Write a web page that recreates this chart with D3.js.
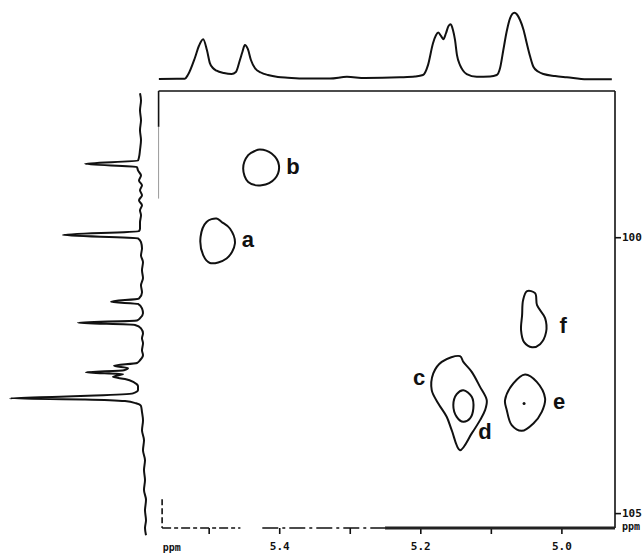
<!DOCTYPE html>
<html>
<head>
<meta charset="utf-8">
<script src="https://d3js.org/d3.v7.min.js"></script>
<style>
  body { margin: 0; background: #fff; }
  svg { display: block; }
</style>
</head>
<body>
<script>
// 2D NMR (1H / 13C) contour plot with 1D projections, redrawn from a scan

// --- data ---

// top trace (1H projection): ppm and relative intensity
var topPpm = [5.5706, 5.545, 5.5338, 5.5295, 5.5196, 5.5139, 5.5078, 5.5025, 5.4983, 5.494, 5.4888, 5.4784,
  5.4675, 5.4614, 5.4557, 5.4522, 5.4487, 5.4444, 5.4401, 5.4345, 5.426, 5.416, 5.4018, 5.3877, 5.3635, 5.3281,
  5.304, 5.2784, 5.2288, 5.2075, 5.1962, 5.1891, 5.182, 5.1778, 5.1745, 5.1707, 5.1674, 5.1636, 5.16, 5.1569,
  5.1537, 5.1508, 5.148, 5.1437, 5.1395, 5.1342, 5.12, 5.1011, 5.0916, 5.0869, 5.0823, 5.0777, 5.0728, 5.0667,
  5.0629, 5.0586, 5.0536, 5.0491, 5.0445, 5.0397, 5.033, 5.0255, 5.0089, 4.9923, 4.964, 4.9285];
var topInt = [0, 0.3, 0.5, 6, 31.7, 49.8, 60, 43.7, 24, 16.6, 12.5, 9,
  7.5, 10.6, 28.7, 40.7, 51.3, 45, 28.7, 16.6, 9.8, 6, 3, 2, 0.8, 0.8,
  3.3, 1.5, 2.6, 3.8, 6, 21, 54, 66, 70, 65, 60, 69, 80, 82.5,
  74, 59, 36, 21, 12.8, 7.5, 3.5, 3.8, 6, 16.6, 43.7, 70.9, 91.5, 100,
  97.3, 89, 74, 54, 34.7, 18.5, 11.3, 7.5, 4.5, 2.6, -0.5, -0.5];

// left trace (13C projection): ppm and intensity (a.u.)
var leftPpm = [97.39, 97.52, 97.70, 97.88, 98.06, 98.24, 98.42, 98.55, 98.61, 98.67, 98.73, 98.79, 98.88, 98.97,
  99.06, 99.15, 99.24, 99.33, 99.42, 99.51, 99.60, 99.73, 99.84, 99.89, 99.96, 100.02, 100.09, 100.20, 100.33,
  100.45, 100.60, 100.74, 100.87, 101.00, 101.11, 101.17, 101.21, 101.29, 101.38, 101.47, 101.51, 101.55, 101.59,
  101.65, 101.74, 101.83, 101.92, 102.05, 102.14, 102.23, 102.28, 102.33, 102.37, 102.41, 102.45, 102.48, 102.53,
  102.57, 102.63, 102.70, 102.77, 102.83, 102.87, 102.89, 102.92, 102.94, 102.97, 103.01, 103.06, 103.17, 103.32,
  103.50, 103.68, 103.86, 104.04, 104.22, 104.40, 104.58, 104.76, 104.95, 105.13, 105.27, 105.40];
var leftInt = [1, 0, 1, 0, 1, 0, 1, 2, 3, 56, 4, 3, 0, 2,
  -1, 1, -1, 2, -1, 1, 0, 1, 1, 2, 78, 3, 0, -1, 0,
  -2, -1, -2, 0, -1, 2, 30, 3, -1, -2, 1, 4, 63, 6,
  0, -2, -1, -2, -1, -2, 1, 4, 27, 13, 17, 55, 18, 28,
  16, 7, 3, 3, 8, 46, 81, 131, 56, 16, 5, 0, -1, -2,
  -1, -3, -2, -4, -3, -4, -3, -5, -4, -5, -4, -5];

// cross-peak contours: [1H ppm, 13C ppm]
var contourA = [[5.4888, 99.661], [5.4817, 99.723], [5.4699, 99.842], [5.4628, 100.114], [5.4746, 100.386],
  [5.4983, 100.466], [5.5078, 100.326], [5.5115, 99.995], [5.503, 99.723]];
var contourB = [[5.4345, 98.437], [5.4274, 98.411], [5.4108, 98.484], [5.4004, 98.696], [5.4061, 98.937],
  [5.425, 99.058], [5.444, 98.998], [5.4511, 98.755], [5.444, 98.514]];
var contourC = [[5.1437, 102.156], [5.139, 102.259], [5.1271, 102.440], [5.1153, 102.712], [5.1058, 102.953],
  [5.1082, 103.134], [5.1153, 103.315], [5.1271, 103.556], [5.1437, 103.859], [5.1555, 103.496],
  [5.1626, 103.255], [5.1745, 103.013], [5.1838, 102.772], [5.1816, 102.469], [5.1696, 102.259]];
var contourD = [[5.139, 102.772], [5.1271, 102.893], [5.1248, 103.103], [5.1295, 103.284], [5.139, 103.346],
  [5.1484, 103.255], [5.1532, 103.043], [5.1484, 102.844]];
var contourE = [[5.0515, 102.487], [5.0349, 102.621], [5.0231, 102.922], [5.0278, 103.165], [5.0397, 103.375],
  [5.0562, 103.509], [5.0704, 103.406], [5.0774, 103.134], [5.0799, 102.953], [5.0681, 102.650]];
var contourF = [[5.0487, 100.978], [5.0373, 101.014], [5.0345, 101.232], [5.0231, 101.467], [5.0217, 101.721],
  [5.0302, 101.938], [5.0416, 101.993], [5.0529, 101.902], [5.0572, 101.685], [5.0557, 101.413], [5.0543, 101.141]];
var peakDot = [[5.0529, 103.013]];

var peakNames = ['a', 'b', 'c', 'd', 'e', 'f'];
var labelX = [5.4444, 5.3806, 5.2017, 5.1082, 5.0033, 4.9976];
var labelY = [100.054, 98.732, 102.554, 103.533, 102.989, 101.612];

// axis ticks
var xTicks = [5.5, 5.4, 5.3, 5.2, 5.1, 5.0];
var xTickLabels = ['', '5.4', '', '5.2', '', '5.0'];
var yTicks = [100, 105];

// --- layout ---
var W = 644, H = 558;
var box = {left: 160, right: 615, top: 91, bottom: 528};

var svg = d3.select('body').append('svg').attr('width', W).attr('height', H);

var x = d3.scaleLinear().domain([5.569, 4.924]).range([box.left, box.right]);
var y = d3.scaleLinear().domain([97.35, 105.27]).range([box.top, box.bottom]);
var topY = d3.scaleLinear().domain([0, 100]).range([79, 12.7]);
var leftX = d3.scaleLinear().domain([0, 131]).range([141, 10]);

var ink = '#111';
var plotFont = '"DejaVu Sans Mono", monospace';

// frame: top + right solid, left and bottom partly faded like the scan
function seg(g, x1, y1, x2, y2) {
  return g.append('path')
    .attr('d', 'M' + x(x1) + ',' + y(y1) + 'L' + x(x2) + ',' + y(y2));
}
var frame = svg.append('g').attr('fill', 'none').attr('stroke', ink).attr('stroke-width', 1.6);
seg(frame, 5.571, 97.35, 4.924, 97.35);
seg(frame, 4.924, 97.35, 4.924, 105.27);
seg(frame, 5.571, 97.35, 5.571, 98.0);
seg(frame, 5.571, 98.0, 5.571, 99.3).attr('stroke', '#999').attr('stroke-width', 1);
seg(frame, 5.566, 104.75, 5.566, 105.27).attr('stroke-dasharray', '6,3');
seg(frame, 5.566, 105.27, 5.455, 105.27).attr('stroke-dasharray', '9,3,4,3');
seg(frame, 5.424, 105.27, 5.25, 105.27).attr('stroke-dasharray', '16,4,3,4');

// bottom axis; the solid right part of the bottom edge is drawn inside its group
var xAxis = d3.axisBottom(x).tickValues(xTicks).tickSize(6).tickPadding(8)
  .tickFormat(function(d, i) { return xTickLabels[i]; });
var gx = svg.append('g').attr('transform', 'translate(0,' + box.bottom + ')').call(xAxis);
gx.select('.domain').remove();
gx.append('line').attr('x1', x(5.25)).attr('x2', x(4.924)).attr('y1', 0).attr('y2', 0)
  .attr('stroke', '#222').attr('stroke-width', 3);
gx.selectAll('.tick line').attr('stroke', ink).attr('stroke-width', 1.6);
gx.selectAll('.tick text').attr('fill', ink).style('font-family', plotFont)
  .style('font-size', '11px').style('font-weight', 'bold');
svg.append('text').attr('x', x(5.565)).attr('y', box.bottom + 23).attr('text-anchor', 'start')
  .attr('fill', ink).style('font-family', plotFont).style('font-size', '10px').style('font-weight', 'bold')
  .text('ppm');

// right axis
var yAxis = d3.axisRight(y).tickValues(yTicks).tickSize(6).tickPadding(1).tickFormat(d3.format('d'));
var gy = svg.append('g').attr('transform', 'translate(' + box.right + ',0)').call(yAxis);
gy.select('.domain').remove();
gy.selectAll('.tick line').attr('stroke', ink).attr('stroke-width', 1.6);
gy.selectAll('.tick text').attr('fill', ink).style('font-family', plotFont)
  .style('font-size', '11px').style('font-weight', 'bold');
svg.append('text').attr('x', box.right + 7).attr('y', y(105.25)).attr('dy', '0.35em')
  .attr('fill', ink).style('font-family', plotFont).style('font-size', '10px').style('font-weight', 'bold')
  .text('ppm');

// top projection
var topData = topPpm.map(function(p, i) { return {p: p, v: topInt[i]}; });
var topLine = d3.line().x(function(d) { return x(d.p); }).y(function(d) { return topY(d.v); })
  .curve(d3.curveMonotoneX);
svg.append('path').attr('d', topLine(topData)).attr('fill', 'none').attr('stroke', ink)
  .attr('stroke-width', 2).attr('stroke-linejoin', 'round');

// left projection (peaks pointing left)
var leftData = leftPpm.map(function(p, i) { return {p: p, v: leftInt[i]}; });
var leftLine = d3.line().x(function(d) { return leftX(d.v); }).y(function(d) { return y(d.p); })
  .curve(d3.curveMonotoneY);
svg.append('path').attr('d', leftLine(leftData)).attr('fill', 'none').attr('stroke', ink)
  .attr('stroke-width', 2).attr('stroke-linejoin', 'round');

// contours
var contours = [contourA, contourB, contourC, contourD, contourE, contourF];
var contourLine = d3.line().x(function(d) { return x(d[0]); }).y(function(d) { return y(d[1]); })
  .curve(d3.curveCatmullRomClosed.alpha(0.5));
svg.append('g').selectAll('path').data(contours).join('path')
  .attr('d', contourLine).attr('fill', 'none').attr('stroke', ink).attr('stroke-width', 2);

svg.selectAll('circle.dot').data(peakDot).join('circle').attr('class', 'dot')
  .attr('cx', function(d) { return x(d[0]); }).attr('cy', function(d) { return y(d[1]); })
  .attr('r', 1.5).attr('fill', ink);

// peak labels
svg.append('g').selectAll('text').data(peakNames).join('text')
  .attr('x', function(d, i) { return x(labelX[i]); })
  .attr('y', function(d, i) { return y(labelY[i]); })
  .attr('text-anchor', 'middle').attr('dy', '0.32em')
  .attr('fill', ink).style('font-family', '"Liberation Sans", Arial, sans-serif')
  .style('font-size', '22px').style('font-weight', 'bold')
  .text(function(d) { return d; });
</script>
</body>
</html>
